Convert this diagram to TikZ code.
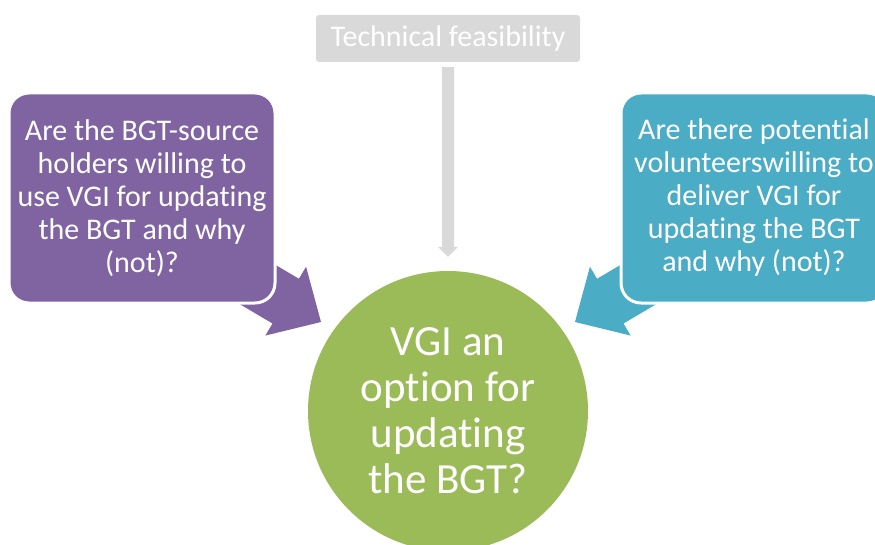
\documentclass[tikz,border=0pt]{standalone}
\usepackage{fontspec}
\setmainfont[Ligatures=NoCommon]{Carlito}
\usetikzlibrary{calc}
\definecolor{cpurple}{HTML}{8064A2}
\definecolor{cteal}{HTML}{4BACC6}
\definecolor{cgreen}{HTML}{9BBB59}
\definecolor{cgray}{HTML}{D9D9D9}
\begin{document}
\begin{tikzpicture}[x=1pt,y=-1pt,
  qbox/.style={rectangle, rounded corners=20pt, minimum width=266pt, minimum height=210pt,
    draw=white, line width=3pt, text=white, align=center, inner sep=0pt,
    font=\fontsize{30}{33}\selectfont},
  hub/.style={circle, fill=cgreen, minimum size=280pt, inner sep=0pt, text=white,
    align=center, font=\fontsize{43}{46}\selectfont},
  topbox/.style={rectangle, rounded corners=3pt, fill=cgray, minimum width=264pt,
    minimum height=47pt, inner sep=0pt, text=white, font=\fontsize{30}{33}\selectfont}
]
\useasboundingbox (0,0) rectangle (875,545);
\clip (0,0) rectangle (875,545);

% block arrows (behind the boxes)
\coordinate (ltip) at (321,322);
\coordinate (rtip) at (575,322);
\begin{scope}[shift={(ltip)}, rotate=-30.6]
  \fill[cpurple] (-150,-26) -- (-41,-26) -- (-41,-40) -- (0,0) -- (-41,40) -- (-41,26) -- (-150,26) -- cycle;
\end{scope}
\begin{scope}[shift={(rtip)}, rotate=210.6]
  \fill[cteal] (-150,-26) -- (-41,-26) -- (-41,-40) -- (0,0) -- (-41,40) -- (-41,26) -- (-150,26) -- cycle;
\end{scope}

% question boxes
\node[qbox, fill=cpurple] (lq) at (142,198) {Are the BGT-source\\holders willing to\\use VGI for updating\\the BGT and why\\(not)?};
\node[qbox, fill=cteal] (rq) at (754,198) {Are there potential\\volunteerswilling to\\deliver VGI for\\updating the BGT\\and why (not)?};

% central circle
\node[hub] (circ) at (448,411) {VGI an\\option for\\updating\\the BGT?};

% top box
\node[topbox] (tf) at (448,38.5) {Technical feasibility};

% gray arrow from top box to circle
\fill[cgray] ($(tf.south)+(-6,5)$) -- ($(tf.south)+(6,5)$) -- ($(circ.north)+(6,-24)$)
  -- ($(circ.north)+(10,-24)$) -- ($(circ.north)+(0,-14)$) -- ($(circ.north)+(-10,-24)$)
  -- ($(circ.north)+(-6,-24)$) -- cycle;
\end{tikzpicture}
\end{document}
